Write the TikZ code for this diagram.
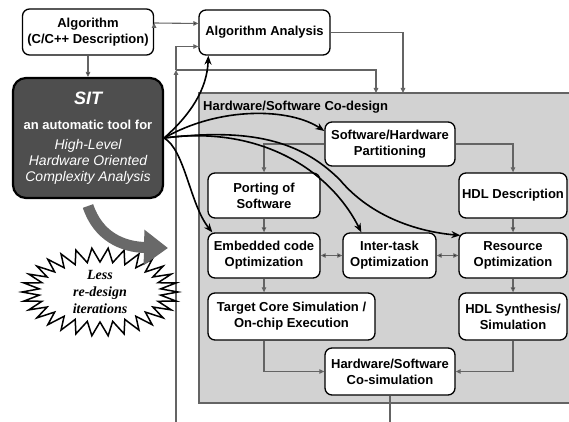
\documentclass[tikz,border=0pt]{standalone}
\usepackage{fontspec}
\setmainfont{Liberation Sans}
\newfontfamily\timesfont{Liberation Serif}
\usetikzlibrary{arrows.meta,calc,positioning}

\definecolor{sitgray}{RGB}{78,78,78}
\definecolor{cdgray}{RGB}{210,210,210}
\definecolor{linegray}{RGB}{100,100,100}
\definecolor{biggray}{RGB}{105,105,105}

\newcommand{\sitfocus}{\fontsize{14}{16}\selectfont\mdseries\itshape}

\begin{document}
\begin{tikzpicture}[x=1pt, y=-1pt,
  >={Triangle[length=5pt,width=4.5pt]},
  block/.style={draw, fill=white, line width=1.3pt, rounded corners=7pt,
    align=center, inner sep=2pt, font=\fontsize{13}{16}\selectfont\bfseries},
  sitbox/.style={draw=black, fill=sitgray, text=white, line width=2.2pt,
    rounded corners=13pt, minimum width=150pt, minimum height=120pt,
    align=center, font=\fontsize{13}{16}\selectfont\bfseries},
  flow/.style={draw=linegray, line width=1.1pt},
  tool/.style={draw=black, line width=1.6pt, -{Stealth[length=9pt,width=7pt]}},
  lesstext/.style={align=center, font=\timesfont\fontsize{14}{17}\selectfont\bfseries\itshape}]

  \useasboundingbox (0,0) rectangle (569,422) ;

  % co-design area
  \node (codesign) [draw=linegray, fill=cdgray, line width=1.2pt, inner sep=0pt,
    minimum width=372pt, minimum height=310pt] at (385,248) {} ;
  \node (cdlabel) [anchor=west, inner sep=0pt, font=\fontsize{13}{16}\selectfont\bfseries]
    at (203,107) {Hardware/Software Co-design} ;

  % top boxes
  \node (alg) [block, minimum width=131pt, minimum height=46pt] at (88,32)
    {Algorithm\\(C/C++ Description)} ;
  \node (ana) [block, minimum width=131pt, minimum height=45pt] at (264.5,32.5)
    {Algorithm Analysis} ;
  \node (sit) [sitbox] at (88,138)
    {{\fontsize{18}{16}\selectfont\itshape SIT}\\[9pt]
     an automatic tool for\\[4pt]
     \sitfocus High-Level\\
     \sitfocus Hardware Oriented\\
     \sitfocus Complexity Analysis} ;

  % co-design boxes
  \node (part)  [block, minimum width=130pt, minimum height=44pt] at (390,144)
    {Software/Hardware\\Partitioning} ;
  \node (port)  [block, minimum width=112pt, minimum height=45pt] at (264,195.5)
    {Porting of\\Software} ;
  \node (hdl)   [block, minimum width=108pt, minimum height=45pt] at (513,195.5)
    {HDL Description} ;
  \node (emb)   [block, minimum width=112pt, minimum height=45pt] at (264,255.5)
    {Embedded code\\Optimization} ;
  \node (inter) [block, minimum width=93pt, minimum height=45pt] at (389.5,255.5)
    {Inter-task\\Optimization} ;
  \node (res)   [block, minimum width=108pt, minimum height=45pt] at (513,255.5)
    {Resource\\Optimization} ;
  \node (targ)  [block, minimum width=167pt, minimum height=47pt] at (291.5,316.5)
    {Target Core Simulation /\\On-chip Execution} ;
  \node (syn)   [block, minimum width=108pt, minimum height=47pt] at (513,316.5)
    {HDL Synthesis/\\Simulation} ;
  \node (cosim) [block, minimum width=130pt, minimum height=47pt] at (390,371.5)
    {Hardware/Software\\Co-simulation} ;

  \coordinate (fbbot)  at (176,422) ;
  \coordinate (fbjoin) at (176,70) ;
  \coordinate (in1)    at (376,93) ;
  \coordinate (in2)    at (403,93) ;
  \coordinate (cobot)  at (390,422) ;

  % gray connectors
  \path [flow, ->] ($(alg.east)+(0,-9)$) edge ($(ana.west)+(0,-9)$) ;
  \path [flow, ->] (alg) edge (sit) ;
  \draw [flow, ->] (ana.east) -| (in2) ;
  \draw [flow, ->] (fbbot) -- (fbjoin) ;
  \draw [flow, ->] (fbjoin) -| (in1) ;
  \draw [flow, ->] (fbjoin) |- ($(ana.west)+(0,14)$) ;

  \draw [flow, ->] (part.west) -| (port.north) ;
  \draw [flow, ->] (part.east) -| (hdl.north) ;
  \path [flow, ->] (port) edge (emb) ;
  \path [flow, ->] (hdl) edge (res) ;
  \path [flow, <->] (emb) edge (inter) ;
  \path [flow, <->] (inter) edge (res) ;
  \draw [flow, ->] (emb.south) -- (emb.south |- targ.north) ;
  \path [flow, ->] (res) edge (syn) ;
  \draw [flow, ->] (emb.south |- targ.south) |- (cosim.west) ;
  \draw [flow, ->] (syn.south) |- (cosim.east) ;
  \draw [flow] (cosim.south) -- (cobot) ;

  % SIT annotations
  \draw [tool] (sit.east) .. controls (190,115) and (207,90) .. ($(ana.south west)+(10,0)$) ;
  \draw [tool] (sit.east) .. controls (220,106) and (290,108) .. ($(part.west)+(0,-13)$) ;
  \draw [tool] (sit.east) .. controls (260,125) and (330,170) .. ($(inter.north west)+(19,0)$) ;
  \draw [tool] (sit.east) .. controls (250,128) and (300,140) .. (340,180)
    .. controls (372,218) and (420,232) .. ($(res.north west)+(2,3)$) ;
  \draw [tool] (sit.east) .. controls (185,150) and (190,205) .. ($(emb.north west)+(5,0)$) ;

  % starburst
  \coordinate (burstc) at (100,292) ;
  \begin{scope}[shift={(burstc)}]
    \draw [line width=1.5pt, line join=miter] plot [samples at={0,...,59}]
      ({\x*6}:{78-17*mod(\x,2)} and {44-14*mod(\x,2)}) -- cycle ;
  \end{scope}
  \node (less) [lesstext] at (burstc) {Less\\re-design\\iterations} ;

  \draw [draw=biggray, line width=11pt, -{Triangle[length=24pt,width=34pt]}]
    (88,206) .. controls (98,236) and (122,247) .. (168,248) ;

\end{tikzpicture}
\end{document}
